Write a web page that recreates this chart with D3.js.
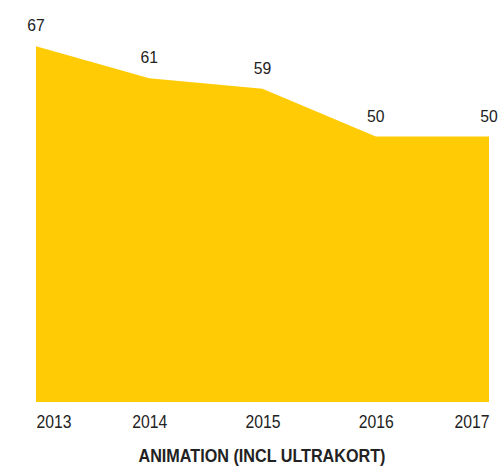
<!DOCTYPE html>
<html>
<head>
<meta charset="utf-8">
<script src="https://cdn.jsdelivr.net/npm/d3@7"></script>
<style>
html,body{margin:0;padding:0;background:#fff;}
svg{display:block;}
text{font-family:"Liberation Sans Narrow","Liberation Sans",Arial,sans-serif;fill:#222;}
</style>
</head>
<body>
<svg id="chart" width="498" height="466"></svg>
<script>
const years = ["2013","2014","2015","2016","2017"];
const values = [67, 61, 59, 50, 50];
const title = "ANIMATION (INCL ULTRAKORT)";

const svg = d3.select("#chart");
const x = d3.scalePoint().domain(years).range([36, 489]);
const y = d3.scaleLinear().domain([0, 67]).range([402, 46.3]);

const data = years.map((yr, i) => ({yr, v: values[i]}));

const area = d3.area()
  .x(d => x(d.yr))
  .y0(y(0))
  .y1(d => y(d.v));

svg.append("path")
  .datum(data)
  .attr("d", area)
  .attr("fill", "#FFCB05");

svg.selectAll("text.val")
  .data(data)
  .join("text")
  .attr("class", "val")
  .attr("x", d => x(d.yr))
  .attr("y", d => y(d.v) - 15)
  .attr("text-anchor", "middle")
  .attr("font-size", 17)
  .attr("textLength", 17.5)
  .attr("lengthAdjust", "spacingAndGlyphs")
  .text(d => d.v);

const axis = d3.axisBottom(x).tickSize(0).tickPadding(0);
const g = svg.append("g").attr("transform", `translate(0,${y(0)})`).call(axis);
g.select(".domain").remove();
g.selectAll(".tick text")
  .attr("dy", null)
  .attr("y", 26)
  .attr("font-size", 18.5)
  .attr("font-family", null)
  .attr("fill", "#222")
  .attr("textLength", 35)
  .attr("lengthAdjust", "spacingAndGlyphs")
  .attr("text-anchor", (d, i) => i === 0 ? "start" : (i === years.length - 1 ? "end" : "middle"));

svg.append("text")
  .attr("x", 262)
  .attr("y", 462)
  .attr("text-anchor", "middle")
  .attr("font-size", 17.5)
  .attr("font-weight", "bold")
  .attr("fill", "#111")
  .attr("textLength", 247)
  .attr("lengthAdjust", "spacingAndGlyphs")
  .text(title);
</script>
</body>
</html>
